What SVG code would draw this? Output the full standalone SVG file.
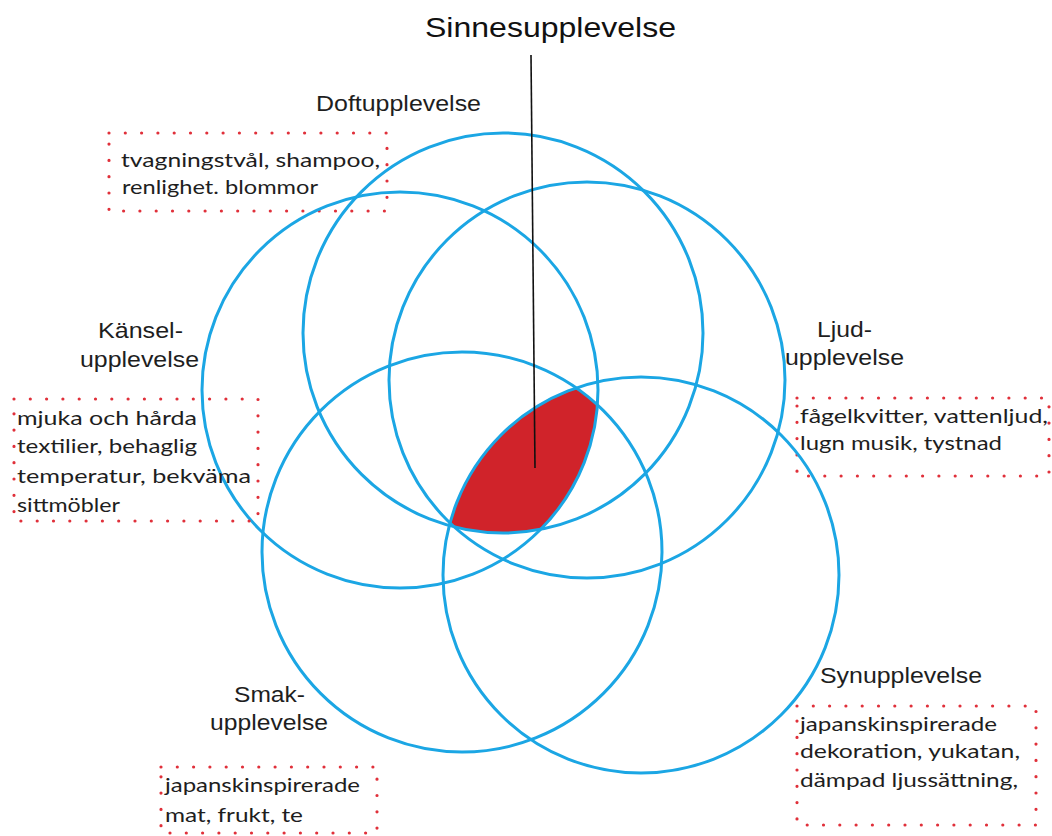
<svg xmlns="http://www.w3.org/2000/svg" width="1052" height="836" viewBox="0 0 1052 836">
  <style>
    .ring { fill: none; stroke: #1ba6e4; stroke-width: 3; }
    .label { font-family: "Liberation Sans", Arial, sans-serif; font-size: 22px; fill: #1e1e1e; }
    .title { font-family: "Liberation Sans", Arial, sans-serif; font-size: 28px; fill: #111; }
    .note { font-family: Lato, "Open Sans", sans-serif; font-size: 20px; fill: #1e1e1e; }
    .dots { fill: none; stroke: #e0303a; stroke-width: 3.2; stroke-linecap: round; stroke-dasharray: 0 16.3; }
  </style>
  <defs>
    <clipPath id="clipDoft"><circle cx="503" cy="333" r="200"/></clipPath>
    <clipPath id="clipKansel"><circle cx="400" cy="390" r="198"/></clipPath>
    <clipPath id="clipLjud"><circle cx="587" cy="380" r="198"/></clipPath>
    <clipPath id="clipSmak"><circle cx="462" cy="552" r="200"/></clipPath>
    <clipPath id="clipSyn"><circle cx="641" cy="575" r="198"/></clipPath>
  </defs>

  <rect width="1052" height="836" fill="#fff"/>

  <!-- shared core: where all five senses overlap -->
  <g id="core" clip-path="url(#clipDoft)">
    <g clip-path="url(#clipKansel)">
      <g clip-path="url(#clipLjud)">
        <g clip-path="url(#clipSmak)">
          <g clip-path="url(#clipSyn)">
            <rect x="300" y="250" width="400" height="400" fill="#d0232a"/>
          </g>
        </g>
      </g>
    </g>
  </g>

  <g id="doft">
    <circle class="ring" cx="503" cy="333" r="200"/>
    <text class="label" x="316" y="111" textLength="165" lengthAdjust="spacingAndGlyphs">Doftupplevelse</text>
    <rect class="dots" x="109" y="133" width="278" height="78"/>
    <text class="note" x="121" y="167" textLength="259" lengthAdjust="spacingAndGlyphs">tvagningstvål, shampoo,</text>
    <text class="note" x="122" y="194" textLength="196" lengthAdjust="spacingAndGlyphs">renlighet. blommor</text>
  </g>

  <g id="kansel">
    <circle class="ring" cx="400" cy="390" r="198"/>
    <text class="label" x="98" y="338" textLength="85" lengthAdjust="spacingAndGlyphs">Känsel-</text>
    <text class="label" x="80" y="367" textLength="119" lengthAdjust="spacingAndGlyphs">upplevelse</text>
    <rect class="dots" x="14" y="399" width="244" height="122"/>
    <text class="note" x="17" y="425" textLength="180" lengthAdjust="spacingAndGlyphs">mjuka och hårda</text>
    <text class="note" x="17" y="453" textLength="180" lengthAdjust="spacingAndGlyphs">textilier, behaglig</text>
    <text class="note" x="17" y="483" textLength="234" lengthAdjust="spacingAndGlyphs">temperatur, bekväma</text>
    <text class="note" x="17" y="512" textLength="103" lengthAdjust="spacingAndGlyphs">sittmöbler</text>
  </g>

  <g id="ljud">
    <circle class="ring" cx="587" cy="380" r="198"/>
    <text class="label" x="817" y="337" textLength="55" lengthAdjust="spacingAndGlyphs">Ljud-</text>
    <text class="label" x="785" y="365" textLength="119" lengthAdjust="spacingAndGlyphs">upplevelse</text>
    <rect class="dots" x="797" y="398" width="252" height="78"/>
    <text class="note" x="800" y="423" textLength="248" lengthAdjust="spacingAndGlyphs">fågelkvitter, vattenljud,</text>
    <text class="note" x="800" y="450" textLength="202" lengthAdjust="spacingAndGlyphs">lugn musik, tystnad</text>
  </g>

  <g id="smak">
    <circle class="ring" cx="462" cy="552" r="200"/>
    <text class="label" x="234" y="702" textLength="71" lengthAdjust="spacingAndGlyphs">Smak-</text>
    <text class="label" x="210" y="730" textLength="118" lengthAdjust="spacingAndGlyphs">upplevelse</text>
    <rect class="dots" x="161" y="767" width="216" height="66"/>
    <text class="note" x="165" y="792" textLength="195" lengthAdjust="spacingAndGlyphs">japanskinspirerade</text>
    <text class="note" x="165" y="822" textLength="138" lengthAdjust="spacingAndGlyphs">mat, frukt, te</text>
  </g>

  <g id="syn">
    <circle class="ring" cx="641" cy="575" r="198"/>
    <text class="label" x="820" y="683" textLength="162" lengthAdjust="spacingAndGlyphs">Synupplevelse</text>
    <rect class="dots" x="797" y="706" width="239" height="119"/>
    <text class="note" x="800" y="731" textLength="197" lengthAdjust="spacingAndGlyphs">japanskinspirerade</text>
    <text class="note" x="800" y="758" textLength="220" lengthAdjust="spacingAndGlyphs">dekoration, yukatan,</text>
    <text class="note" x="800" y="787" textLength="218" lengthAdjust="spacingAndGlyphs">dämpad ljussättning,</text>
  </g>

  <g id="sinne">
    <text class="title" x="425" y="37" textLength="251" lengthAdjust="spacingAndGlyphs">Sinnesupplevelse</text>
  </g>

  <g id="connectors">
    <line x1="531" y1="55" x2="535" y2="468" stroke="#111" stroke-width="1.6"/>
  </g>
</svg>
